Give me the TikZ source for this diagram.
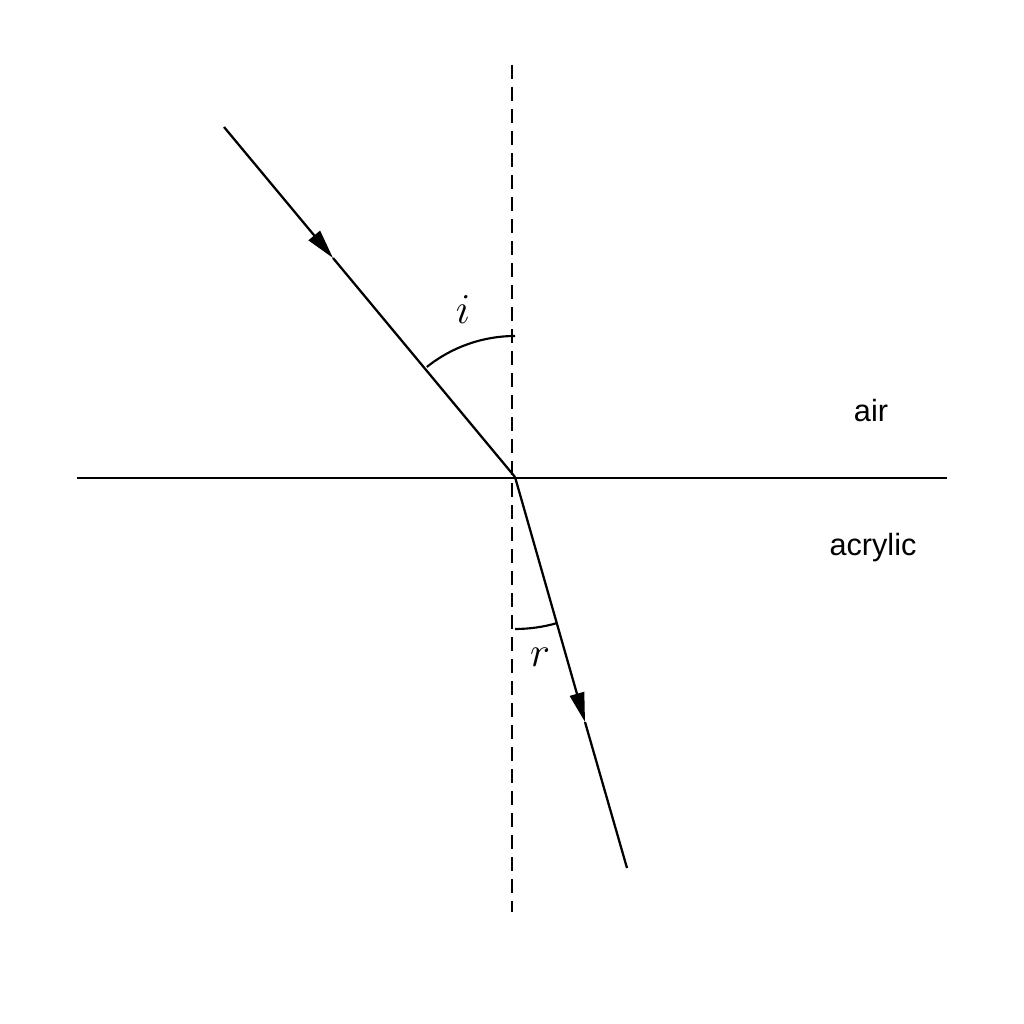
\documentclass[tikz,border=0pt]{standalone}
\usepackage{fix-cm}
\usepackage{fontspec}
\newfontfamily\labelfont{Liberation Sans}
\usetikzlibrary{arrows.meta}

\tikzset{every picture/.style={line width=1.5pt}}
\tikzset{
  ray/.style={line width=1.7pt},
  rayarrow/.style={ray, -{Triangle[length=22pt,width=11pt]}},
  normalline/.style={line width=1.4pt, dash pattern={on 10.5pt off 6pt}},
  anglearc/.style={line width=1.6pt},
  medium/.style={font=\labelfont\fontsize{23}{27}\selectfont, inner sep=0.75pt},
  anglelabel/.style={font=\fontsize{32}{36}\selectfont, inner sep=0.75pt}
}

\begin{document}
\begin{tikzpicture}[x=0.75pt,y=0.75pt,yscale=-1,xscale=1]
\useasboundingbox (0,0) rectangle (1024,1024);

%Points
\coordinate (hit) at (515,477);
\coordinate (src) at (224,127);
\coordinate (tipin) at (333,258);
\coordinate (tipout) at (585,722);
\coordinate (dst) at (627,868);
\coordinate (ntop) at (512,65);
\coordinate (nbot) at (512,912);
\coordinate (sleft) at (77,478);
\coordinate (sright) at (947,478);

%Normal (dashed)
\draw [normalline] (ntop) -- (nbot) ;
%Surface
\draw [ray] (sleft) -- (sright) ;
%Incident ray
\draw [rayarrow] (src) -- (tipin) ;
\draw [ray] (tipin) -- (hit) ;
%Refracted ray
\draw [rayarrow] (hit) -- (tipout) ;
\draw [ray] (tipout) -- (dst) ;

%Angle arcs
\draw [anglearc] (hit) ++(270:141) arc [start angle=270, end angle=231.3, radius=141] ;
\draw [anglearc] (hit) ++(90:152) arc [start angle=90, end angle=74, radius=152] ;

% Text Node
\node [anglelabel] (labi) at (463,310) {$i$};
% Text Node
\node [anglelabel] (labr) at (540,657) {$r$};
% Text Node
\node [medium] (air) at (871,411) {air};
% Text Node
\node [medium] (acrylic) at (873,548) {acrylic};

\end{tikzpicture}
\end{document}
